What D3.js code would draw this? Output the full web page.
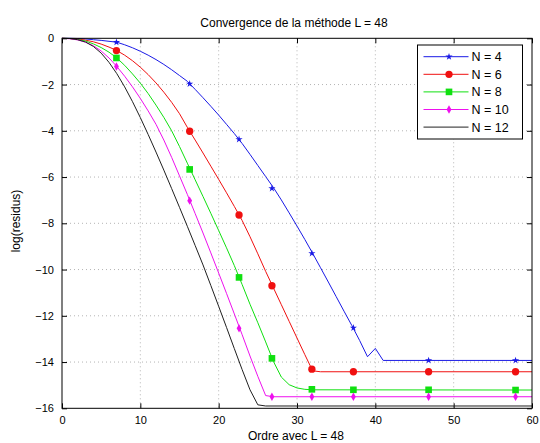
<!DOCTYPE html>
<html>
<head>
<meta charset="utf-8">
<script src="https://cdn.jsdelivr.net/npm/d3@7"></script>
<style>
  body { margin: 0; background: #fff; }
  svg text { font-family: "Liberation Sans", Arial, Helvetica, sans-serif; fill: #000; }
</style>
</head>
<body>
<div id="chart"></div>
<script>
// Residual curves: [order, log(residus)]
const residN4 = [[0,0],[1,0],[2,-0.01],[3,-0.03],[4,-0.06],[5,-0.09],[6,-0.13],[7,-0.17],[8,-0.28],[9,-0.41],[10,-0.56],[11,-0.73],[12,-0.92],[13,-1.13],[14,-1.36],[15,-1.61],[16,-1.86],[17,-2.21],[18,-2.57],[19,-2.94],[20,-3.32],[21,-3.72],[22,-4.12],[23,-4.55],[24,-5.02],[25,-5.50],[26,-5.98],[27,-6.46],[28,-6.99],[29,-7.55],[30,-8.12],[31,-8.70],[32,-9.30],[33,-9.92],[34,-10.54],[35,-11.17],[36,-11.80],[37,-12.42],[38,-13.07],[39,-13.77],[40,-13.41],[41,-13.93],[60,-13.93]];
const residN6 = [[0,0],[1,-0.01],[2,-0.03],[3,-0.08],[4,-0.15],[5,-0.25],[6,-0.38],[7,-0.53],[8,-0.73],[9,-0.97],[10,-1.25],[11,-1.57],[12,-1.93],[13,-2.33],[14,-2.77],[15,-3.26],[16,-3.85],[17,-4.40],[18,-4.96],[19,-5.53],[20,-6.10],[21,-6.68],[22,-7.27],[23,-7.88],[24,-8.58],[25,-9.32],[26,-10.08],[27,-10.80],[28,-11.52],[29,-12.24],[30,-12.96],[31,-13.68],[32,-14.38],[33,-14.42],[60,-14.42]];
const residN8 = [[0,0],[1,-0.01],[2,-0.05],[3,-0.12],[4,-0.24],[5,-0.40],[6,-0.60],[7,-0.85],[8,-1.17],[9,-1.54],[10,-1.94],[11,-2.39],[12,-2.89],[13,-3.42],[14,-4.00],[15,-4.68],[16,-5.40],[17,-6.12],[18,-6.84],[19,-7.57],[20,-8.31],[21,-9.06],[22,-9.83],[23,-10.65],[24,-11.50],[25,-12.30],[26,-13.13],[27,-13.98],[28,-14.65],[29,-14.98],[30,-15.12],[31,-15.18],[32,-15.20],[60,-15.21]];
const residN10 = [[0,0],[1,-0.02],[2,-0.07],[3,-0.17],[4,-0.32],[5,-0.55],[6,-0.85],[7,-1.22],[8,-1.64],[9,-2.10],[10,-2.60],[11,-3.14],[12,-3.72],[13,-4.40],[14,-5.15],[15,-5.95],[16,-6.75],[17,-7.58],[18,-8.42],[19,-9.28],[20,-10.15],[21,-11.03],[22,-11.92],[23,-12.82],[24,-13.74],[25,-14.62],[26,-15.45],[27,-15.50],[60,-15.50]];
const residN12 = [[0,0],[1,-0.01],[2,-0.06],[3,-0.16],[4,-0.35],[5,-0.64],[6,-1.04],[7,-1.53],[8,-2.10],[9,-2.74],[10,-3.43],[11,-4.16],[12,-4.92],[13,-5.70],[14,-6.50],[15,-7.31],[16,-8.13],[17,-8.96],[18,-9.80],[19,-10.69],[20,-11.59],[21,-12.50],[22,-13.42],[23,-14.33],[24,-15.20],[25,-15.85],[26,-15.90],[60,-15.90]];

// marker positions (shared) and marker values per series
const markerX = [6.95, 16.3, 22.6, 26.8, 31.9, 37.2, 46.8, 57.9];
const markN4 = [-0.17, -1.97, -4.37, -6.49, -9.30, -12.52, -13.93, -13.93];
const markN6 = [-0.53, -4.02, -7.64, -10.70, -14.31, -14.42, -14.42, -14.42];
const markN8 = [-0.85, -5.67, -10.34, -13.84, -15.18, -15.20, -15.20, -15.21];
const markN10 = [-1.22, -7.02, -12.54, -15.50, -15.50, -15.50, -15.50, -15.50];

const seriesLabels = ["N = 4", "N = 6", "N = 8", "N = 10", "N = 12"];
const xTicks = [0, 10, 20, 30, 40, 50, 60];
const yTicks = [0, -2, -4, -6, -8, -10, -12, -14, -16];

const width = 540, height = 443;
const margin = { top: 38.3, right: 8, bottom: 34.7, left: 62 };
const innerW = width - margin.left - margin.right;
const innerH = height - margin.top - margin.bottom;

const series = [
  { label: seriesLabels[0], data: residN4, marks: markN4, color: "#1a1ae6", symbol: d3.symbolStar, size: 16 },
  { label: seriesLabels[1], data: residN6, marks: markN6, color: "#f01010", symbol: d3.symbolCircle, size: 42 },
  { label: seriesLabels[2], data: residN8, marks: markN8, color: "#10e010", symbol: d3.symbolSquare, size: 44 },
  { label: seriesLabels[3], data: residN10, marks: markN10, color: "#ee10ee", symbol: d3.symbolDiamond, size: 20 },
  { label: seriesLabels[4], data: residN12, marks: null, color: "#202020", symbol: null, size: 0 }
];

const svg = d3.select("#chart").append("svg")
  .attr("width", width)
  .attr("height", height);

const x = d3.scaleLinear().domain([0, 60]).range([margin.left, margin.left + innerW]);
const y = d3.scaleLinear().domain([-16, 0]).range([margin.top + innerH, margin.top]);
const fmt = d3.format("d");

// dotted grid
const grid = svg.append("g").attr("class", "grid")
  .attr("stroke", "#b4b4b4").attr("stroke-width", 1).attr("stroke-dasharray", "1,3");
grid.selectAll(".gx").data(xTicks.slice(1, -1)).enter().append("line")
  .attr("x1", d => x(d)).attr("x2", d => x(d))
  .attr("y1", y(0)).attr("y2", y(-16));
grid.selectAll(".gy").data(yTicks.slice(1, -1)).enter().append("line")
  .attr("x1", x(0)).attr("x2", x(60))
  .attr("y1", d => y(d)).attr("y2", d => y(d));

// axes, ticks inward on all four sides
const tickLen = 5;
svg.append("g").attr("transform", `translate(0,${y(-16)})`)
  .call(d3.axisBottom(x).tickValues(xTicks).tickSizeInner(-tickLen).tickSizeOuter(0).tickPadding(8).tickFormat(fmt))
  .call(g => g.select(".domain").remove())
  .call(g => g.selectAll("text").attr("font-size", 11).attr("fill", "#000"));
svg.append("g").attr("transform", `translate(0,${y(0)})`)
  .call(d3.axisTop(x).tickValues(xTicks).tickSizeInner(-tickLen).tickSizeOuter(0).tickFormat(""))
  .call(g => g.select(".domain").remove());
svg.append("g").attr("transform", `translate(${x(0)},0)`)
  .call(d3.axisLeft(y).tickValues(yTicks).tickSizeInner(-tickLen).tickSizeOuter(0).tickPadding(8).tickFormat(fmt))
  .call(g => g.select(".domain").remove())
  .call(g => g.selectAll("text").attr("font-size", 11).attr("fill", "#000"));
svg.append("g").attr("transform", `translate(${x(60)},0)`)
  .call(d3.axisRight(y).tickValues(yTicks).tickSizeInner(-tickLen).tickSizeOuter(0).tickFormat(""))
  .call(g => g.select(".domain").remove());

// curves
const line = d3.line().x(d => x(d[0])).y(d => y(d[1]));
const plot = svg.append("g").attr("class", "curves");
series.forEach(s => {
  plot.append("path")
    .datum(s.data)
    .attr("fill", "none")
    .attr("stroke", s.color)
    .attr("stroke-width", 1)
    .attr("stroke-linejoin", "round")
    .attr("d", line);
  if (s.marks) {
    plot.selectAll(null)
      .data(markerX.map((mx, i) => [mx, s.marks[i]]))
      .enter().append("path")
      .attr("transform", d => `translate(${x(d[0])},${y(d[1])})`)
      .attr("d", d3.symbol(s.symbol, s.size))
      .attr("fill", s.color);
  }
});

// box
svg.append("rect")
  .attr("x", x(0)).attr("y", y(0))
  .attr("width", x(60) - x(0)).attr("height", y(-16) - y(0))
  .attr("fill", "none").attr("stroke", "#000").attr("stroke-width", 1);

// legend
const legend = svg.append("g").attr("transform", "translate(417.5,45)");
legend.append("rect")
  .attr("width", 105).attr("height", 94)
  .attr("fill", "#fff").attr("stroke", "#000").attr("stroke-width", 1);
series.forEach((s, i) => {
  const ly = 11.7 + i * 17.6;
  legend.append("line")
    .attr("x1", 6).attr("x2", 51).attr("y1", ly).attr("y2", ly)
    .attr("stroke", s.color).attr("stroke-width", 1);
  if (s.symbol) {
    legend.append("path")
      .attr("transform", `translate(31.5,${ly})`)
      .attr("d", d3.symbol(s.symbol, s.size))
      .attr("fill", s.color);
  }
  legend.append("text")
    .attr("x", 54).attr("y", ly).attr("dy", "0.36em")
    .attr("font-size", 12.5)
    .text(s.label);
});

// titles
svg.append("text")
  .attr("x", 294).attr("y", 27)
  .attr("text-anchor", "middle").attr("font-size", 12)
  .text("Convergence de la méthode L = 48");
svg.append("text")
  .attr("x", 296).attr("y", 440)
  .attr("text-anchor", "middle").attr("font-size", 12)
  .text("Ordre avec L = 48");
svg.append("text")
  .attr("transform", "translate(20,221) rotate(-90)")
  .attr("text-anchor", "middle").attr("font-size", 12)
  .text("log(residus)");
</script>
</body>
</html>
